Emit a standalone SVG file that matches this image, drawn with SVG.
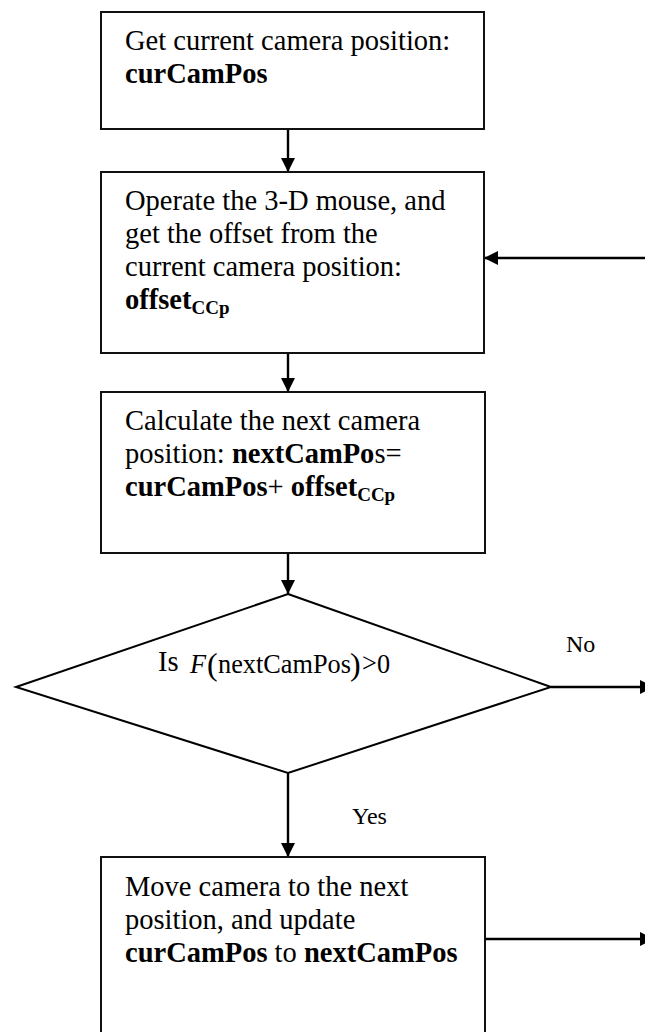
<svg xmlns="http://www.w3.org/2000/svg" width="645" height="1032" viewBox="0 0 645 1032">
  <style>
    .box { fill: #ffffff; stroke: #111111; stroke-width: 2; }
    .wire { fill: none; stroke: #000000; stroke-width: 2.4; }
    text { font-family: "Liberation Serif", "Times New Roman", serif; fill: #000000; }
    .body { font-size: 28.5px; }
    .b { font-weight: bold; }
    .sub { font-size: 19px; font-weight: bold; }
    .label { font-size: 24px; }
    .math { font-size: 26.3px; }
    .paren { font-size: 32px; }
  </style>
  <defs>
    <marker id="arrow" viewBox="0 0 14 14" refX="14" refY="7" markerWidth="14" markerHeight="14" markerUnits="userSpaceOnUse" orient="auto">
      <path d="M0,0 L14,7 L0,14 Z" fill="#000000"/>
    </marker>
  </defs>

  <rect width="645" height="1032" fill="#ffffff"/>

  <!-- connectors -->
  <g id="connectors">
    <line class="wire" x1="288" y1="129" x2="288" y2="172" marker-end="url(#arrow)"/>
    <line class="wire" x1="288" y1="353" x2="288" y2="392" marker-end="url(#arrow)"/>
    <line class="wire" x1="288" y1="553" x2="288" y2="594" marker-end="url(#arrow)"/>
    <line class="wire" x1="288" y1="773" x2="288" y2="857" marker-end="url(#arrow)"/>
    <line class="wire" x1="645" y1="258" x2="484" y2="258" marker-end="url(#arrow)"/>
    <line class="wire" x1="551" y1="687" x2="654" y2="687" marker-end="url(#arrow)"/>
    <line class="wire" x1="485" y1="939" x2="654" y2="939" marker-end="url(#arrow)"/>
    <text class="label" x="566" y="652">No</text>
    <text class="label" x="352" y="824">Yes</text>
  </g>

  <!-- step 1 -->
  <g id="get-position">
    <rect class="box" x="101" y="12" width="383" height="117"/>
    <text class="body" x="125" y="50">Get current camera position:</text>
    <text class="body b" x="125" y="83">curCamPos</text>
  </g>

  <!-- step 2 -->
  <g id="operate-mouse">
    <rect class="box" x="101" y="172" width="383" height="181"/>
    <text class="body" x="125" y="210">Operate the 3-D mouse, and</text>
    <text class="body" x="125" y="243">get the offset from the</text>
    <text class="body" x="125" y="276">current camera position:</text>
    <text class="body" x="125" y="309"><tspan class="b">offset</tspan><tspan class="sub" dy="5">CCp</tspan></text>
  </g>

  <!-- step 3 -->
  <g id="calc-next">
    <rect class="box" x="101" y="392" width="384" height="161"/>
    <text class="body" x="125" y="430">Calculate the next camera</text>
    <text class="body" x="125" y="463">position: <tspan class="b">nextCamPo</tspan>s=</text>
    <text class="body" x="125" y="496"><tspan class="b">curCamPos</tspan>+ <tspan class="b">offset</tspan><tspan class="sub" dy="5">CCp</tspan></text>
  </g>

  <!-- decision: Is F(nextCamPos) > 0 -->
  <g id="check-f">
    <polygon points="288,594 551,687 288,773 16,687" fill="#ffffff" stroke="#000000" stroke-width="2"/>
    <text class="body" x="158" y="671" font-size="27.5">Is</text>
    <text class="math" x="190" y="673" font-style="italic">F</text>
    <text class="paren" x="207" y="675">(</text>
    <text class="math" x="218" y="673">nextCamPos</text>
    <text class="paren" x="350" y="675">)</text>
    <text class="math" x="362" y="672" font-size="19">&gt;</text>
    <text class="math" x="377" y="673">0</text>
  </g>

  <!-- step 4 -->
  <g id="move-camera">
    <path class="box" d="M101,1040 L101,857 L485,857 L485,1040"/>
    <text class="body" x="125" y="896">Move camera to the next</text>
    <text class="body" x="125" y="929">position, and update</text>
    <text class="body" x="125" y="962"><tspan class="b">curCamPos</tspan> to <tspan class="b">nextCamPos</tspan></text>
  </g>
</svg>
